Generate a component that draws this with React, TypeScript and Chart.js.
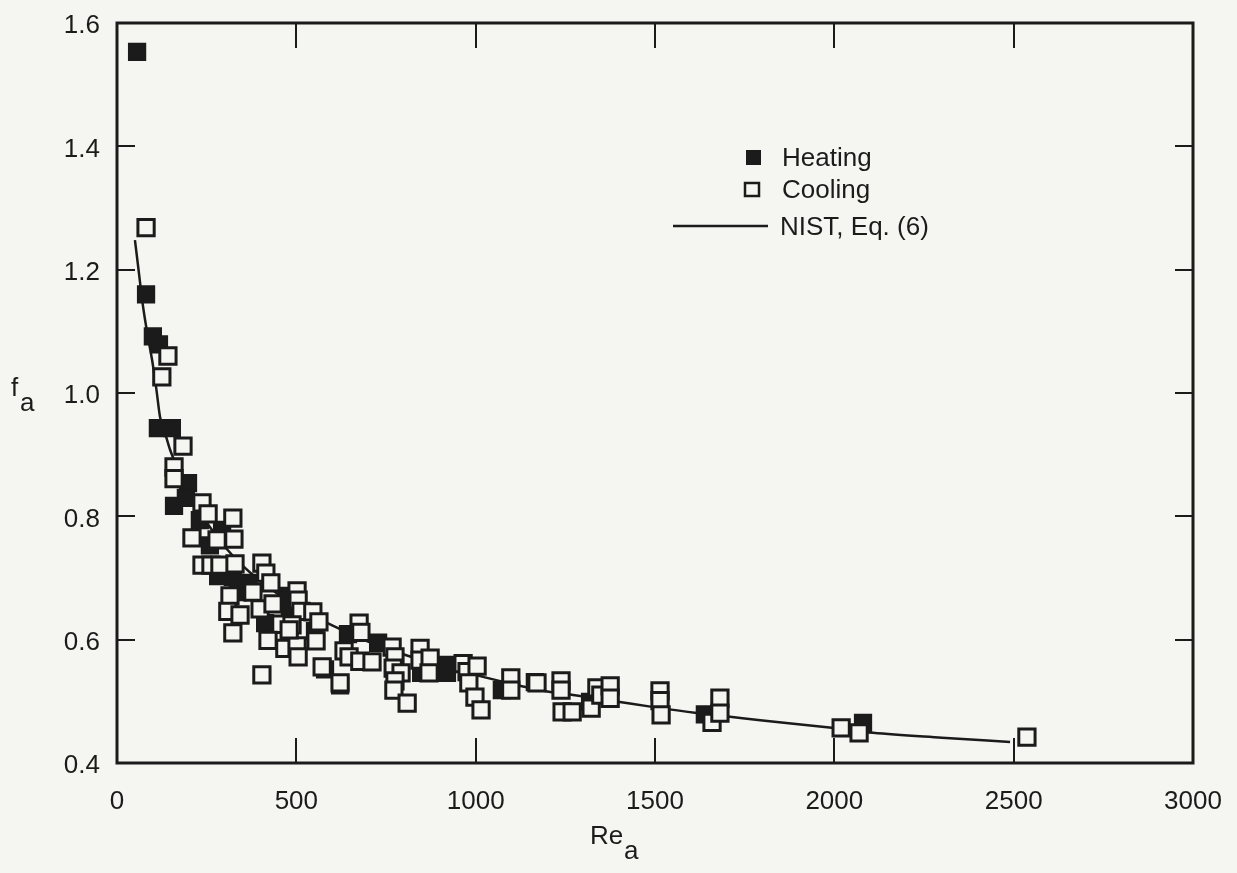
import React, { useEffect, useRef } from 'react';
import { Chart, registerables } from 'chart.js';

Chart.register(...registerables);

// ---- data ----
const heatingRe = [56, 81, 100, 117, 114, 153, 198, 159, 192, 231, 293, 259, 282, 323, 365, 337, 413, 474, 477, 482, 552, 580, 622, 644, 728, 848, 920, 920, 1073, 1165, 1319, 1639, 2080];
const heatingF = [1.553, 1.160, 1.092, 1.079, 0.943, 0.943, 0.854, 0.817, 0.830, 0.794, 0.778, 0.753, 0.703, 0.702, 0.692, 0.677, 0.627, 0.671, 0.658, 0.648, 0.614, 0.552, 0.526, 0.609, 0.595, 0.546, 0.559, 0.546, 0.518, 0.531, 0.499, 0.479, 0.465];

const coolingRe = [81, 142, 125, 184, 159, 159, 237, 254, 323, 209, 279, 326, 237, 262, 287, 329, 404, 415, 429, 379, 315, 309, 343, 323, 399, 435, 502, 505, 513, 546, 563, 457, 488, 421, 468, 502, 555, 404, 572, 622, 675, 680, 633, 647, 677, 711, 767, 775, 770, 792, 775, 772, 809, 845, 845, 873, 870, 965, 976, 1004, 981, 998, 1015, 1098, 1098, 1171, 1238, 1238, 1241, 1269, 1322, 1338, 1349, 1375, 1375, 1514, 1514, 1517, 1659, 1681, 1681, 2019, 2069, 2537, 505, 480];
const coolingF = [1.268, 1.060, 1.026, 0.914, 0.880, 0.861, 0.822, 0.804, 0.797, 0.765, 0.762, 0.763, 0.721, 0.721, 0.721, 0.723, 0.724, 0.708, 0.692, 0.677, 0.671, 0.646, 0.640, 0.611, 0.650, 0.658, 0.679, 0.664, 0.646, 0.645, 0.629, 0.625, 0.624, 0.599, 0.586, 0.590, 0.598, 0.543, 0.556, 0.530, 0.627, 0.612, 0.582, 0.572, 0.565, 0.564, 0.588, 0.572, 0.554, 0.546, 0.533, 0.518, 0.497, 0.586, 0.567, 0.570, 0.546, 0.561, 0.548, 0.557, 0.530, 0.507, 0.486, 0.538, 0.518, 0.530, 0.533, 0.518, 0.483, 0.483, 0.489, 0.522, 0.510, 0.525, 0.505, 0.517, 0.501, 0.478, 0.466, 0.505, 0.481, 0.457, 0.449, 0.442, 0.572, 0.616];

const curveRe = [50, 60, 72, 85, 98, 110, 120, 135, 148, 175, 200, 250, 300, 350, 400, 500, 600, 700, 800, 900, 1032, 1132, 1200, 1277, 1402, 1492, 1617, 1709, 1800, 1993, 2108, 2300, 2490];
const curveF = [1.248, 1.200, 1.143, 1.095, 1.053, 1.005, 0.961, 0.933, 0.908, 0.870, 0.838, 0.790, 0.751, 0.720, 0.695, 0.654, 0.623, 0.597, 0.576, 0.558, 0.538, 0.524, 0.516, 0.510, 0.499, 0.491, 0.481, 0.475, 0.469, 0.457, 0.449, 0.441, 0.434];

const xTickValues = [0, 500, 1000, 1500, 2000, 2500, 3000];
const yTickValues = [0.4, 0.6, 0.8, 1.0, 1.2, 1.4, 1.6];
const legendLabels = ['Heating', 'Cooling', 'NIST, Eq. (6)'];

const INK = '#1b1b1b';
const BG = '#f5f5f1';
const FONT = '"Liberation Sans", Arial, Helvetica, sans-serif';

const framePlugin = {
  id: 'frame',
  beforeDatasetsDraw(chart: any) {
    const { ctx, chartArea: a, scales } = chart;
    ctx.save();
    ctx.strokeStyle = INK;
    ctx.lineWidth = 2;
    ctx.beginPath();
    for (const t of scales.x.ticks) {
      const px = Math.round(scales.x.getPixelForValue(t.value));
      if (px <= a.left + 2 || px >= a.right - 2) continue;
      ctx.moveTo(px, a.bottom);
      ctx.lineTo(px, a.bottom - 25);
      ctx.moveTo(px, a.top);
      ctx.lineTo(px, a.top + 25);
    }
    for (const t of scales.y.ticks) {
      const py = Math.round(scales.y.getPixelForValue(t.value));
      if (py <= a.top + 2 || py >= a.bottom - 2) continue;
      ctx.moveTo(a.left, py);
      ctx.lineTo(a.left + 18, py);
      ctx.moveTo(a.right, py);
      ctx.lineTo(a.right - 18, py);
    }
    ctx.stroke();
    ctx.lineWidth = 3;
    ctx.strokeRect(a.left, a.top, a.right - a.left, a.bottom - a.top);
    ctx.restore();
  },
  afterDraw(chart: any) {
    const { ctx } = chart;
    ctx.save();
    ctx.fillStyle = INK;
    ctx.strokeStyle = INK;
    ctx.font = `26px ${FONT}`;
    ctx.textBaseline = 'alphabetic';
    ctx.textAlign = 'left';
    // axis titles
    ctx.fillText('f', 11, 396);
    ctx.fillText('a', 20, 411);
    ctx.fillText('Re', 590, 844);
    ctx.fillText('a', 624, 859);
    // legend
    const lx = 782;
    const rows = [166, 198, 235];
    ctx.fillRect(746, rows[0] - 16, 15, 15);
    ctx.fillText(legendLabels[0], lx, rows[0]);
    ctx.lineWidth = 2.5;
    ctx.fillStyle = BG;
    ctx.fillRect(745, rows[1] - 15, 14, 13);
    ctx.strokeRect(745, rows[1] - 15, 14, 13);
    ctx.fillStyle = INK;
    ctx.fillText(legendLabels[1], lx, rows[1]);
    ctx.lineWidth = 2.5;
    ctx.beginPath();
    ctx.moveTo(673, rows[2] - 9);
    ctx.lineTo(768, rows[2] - 9);
    ctx.stroke();
    ctx.fillText(legendLabels[2], lx - 2, rows[2]);
    ctx.restore();
  },
};

function zeroPadding(s: any) {
  s.paddingTop = 0;
  s.paddingBottom = 0;
  s.paddingLeft = 0;
  s.paddingRight = 0;
}

export default function App() {
  const ref = useRef<HTMLCanvasElement | null>(null);
  useEffect(() => {
    if (!ref.current) return;
    const chart = new Chart(ref.current, {
      type: 'scatter',
      data: {
        datasets: [
          {
            label: legendLabels[1],
            data: coolingRe.map((x, i) => ({ x, y: coolingF[i] })),
            pointStyle: 'rect',
            pointRadius: 11.5,
            backgroundColor: BG,
            borderColor: INK,
            borderWidth: 3,
            order: 0,
          },
          {
            label: legendLabels[0],
            data: heatingRe.map((x, i) => ({ x, y: heatingF[i] })),
            pointStyle: 'rect',
            pointRadius: 11.5,
            backgroundColor: INK,
            borderColor: INK,
            borderWidth: 2,
            order: 1,
          },
          {
            label: legendLabels[2],
            data: curveRe.map((x, i) => ({ x, y: curveF[i] })),
            showLine: true,
            pointRadius: 0,
            borderColor: INK,
            borderWidth: 2.5,
            cubicInterpolationMode: 'monotone',
            order: 2,
          } as any,
        ],
      },
      options: {
        animation: false,
        responsive: false,
        devicePixelRatio: 1,
        events: [],
        layout: { padding: { left: 0, top: 23, right: 44, bottom: 0 } },
        plugins: { legend: { display: false }, tooltip: { enabled: false } },
        scales: {
          x: {
            type: 'linear',
            min: 0,
            max: 3000,
            afterBuildTicks: (s: any) => { s.ticks = xTickValues.map((v) => ({ value: v })); },
            afterFit: (s: any) => { s.height = 110; zeroPadding(s); },
            grid: { display: false, drawTicks: false },
            border: { display: false },
            ticks: { color: INK, font: { family: FONT, size: 26 }, padding: 23, maxRotation: 0, callback: (v: any) => String(v) },
          },
          y: {
            type: 'linear',
            min: 0.4,
            max: 1.6,
            afterBuildTicks: (s: any) => { s.ticks = yTickValues.map((v) => ({ value: v })); },
            afterFit: (s: any) => { s.width = 117; zeroPadding(s); },
            grid: { display: false, drawTicks: false },
            border: { display: false },
            ticks: { color: INK, font: { family: FONT, size: 26 }, padding: 17, labelOffset: 3, callback: (v: any) => Number(v).toFixed(1) },
          },
        },
      },
      plugins: [framePlugin],
    });
    return () => chart.destroy();
  }, []);
  return (
    <div style={{ position: 'fixed', left: 0, top: 0, width: 1237, height: 873, background: BG }}>
      <canvas ref={ref} width={1237} height={873} style={{ display: 'block' }} />
    </div>
  );
}
